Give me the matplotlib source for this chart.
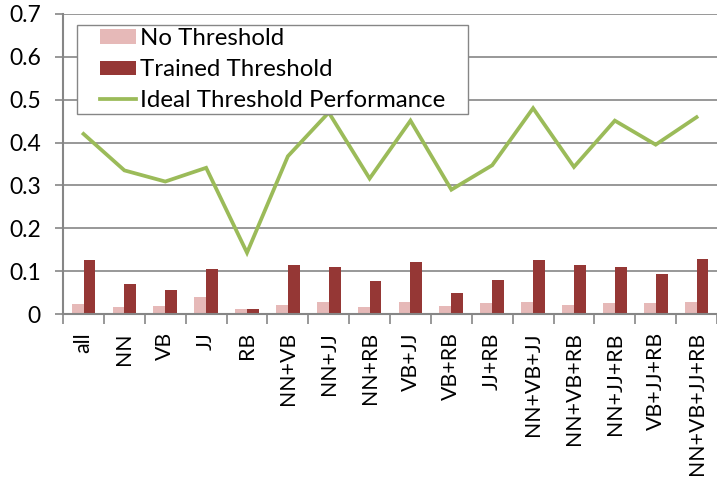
import matplotlib
matplotlib.use("Agg")
import matplotlib.pyplot as plt
import numpy as np
from matplotlib.ticker import FixedLocator
from matplotlib.legend_handler import HandlerPatch, HandlerLine2D
from matplotlib.patches import Rectangle

categories = ["all", "NN", "VB", "JJ", "RB", "NN+VB", "NN+JJ", "NN+RB", "VB+JJ",
              "VB+RB", "JJ+RB", "NN+VB+JJ", "NN+VB+RB", "NN+JJ+RB", "VB+JJ+RB",
              "NN+VB+JJ+RB"]
no_threshold = [0.023, 0.017, 0.019, 0.040, 0.011, 0.021, 0.028, 0.017, 0.028,
                0.019, 0.025, 0.028, 0.021, 0.025, 0.025, 0.028]
trained_threshold = [0.125, 0.069, 0.056, 0.104, 0.011, 0.114, 0.110, 0.077, 0.121,
                     0.048, 0.080, 0.125, 0.114, 0.110, 0.094, 0.129]
ideal_threshold = [0.420, 0.335, 0.309, 0.341, 0.143, 0.368, 0.470, 0.316, 0.451,
                   0.290, 0.347, 0.480, 0.343, 0.451, 0.395, 0.459]
y_ticks = [0, 0.1, 0.2, 0.3, 0.4, 0.5, 0.6, 0.7]
y_tick_labels = ["0", "0.1", "0.2", "0.3", "0.4", "0.5", "0.6", "0.7"]

plt.rcParams['font.family'] = ['Lato', 'DejaVu Sans']

fig = plt.figure(figsize=(7.17, 4.78), dpi=100)
ax = fig.add_axes([0.088, 0.343, 0.912, 0.628])

x = np.arange(len(categories))
w = 0.29
grid_c = "#868686"
h1 = ax.bar(x - w / 2, no_threshold, width=w, color="#E6B9B8", label="No Threshold", zorder=3)
h2 = ax.bar(x + w / 2, trained_threshold, width=w, color="#953735", label="Trained Threshold", zorder=3)
h3, = ax.plot(x, ideal_threshold, color="#9BBB59", lw=2.7, label="Ideal Threshold Performance",
              zorder=4, solid_joinstyle="miter")

ax.set_xlim(-0.5, len(categories) - 0.5)
ax.set_ylim(0, 0.7)
ax.set_yticks(y_ticks)
ax.set_yticklabels(y_tick_labels)
ax.grid(axis="y", color=grid_c, lw=1.2, zorder=0)

ax.set_xticks(x)
ax.set_xticklabels(categories, rotation=90)
ax.xaxis.set_minor_locator(FixedLocator(np.arange(-0.5, len(categories), 1.0)))
ax.tick_params(axis="x", which="major", length=0, pad=13, labelsize=15.3)
ax.tick_params(axis="x", which="minor", length=7, width=1.2, color=grid_c, direction="out")
ax.tick_params(axis="y", length=6, width=1.2, color=grid_c, direction="out", pad=10, labelsize=16.5)

for s in ["top", "right"]:
    ax.spines[s].set_visible(False)
for s in ["left", "bottom"]:
    ax.spines[s].set_color(grid_c)
    ax.spines[s].set_linewidth(1.5)
ax.spines["bottom"].set_zorder(5)

fs = 17.3
p1 = h1.patches[0]
p2 = h2.patches[0]
hmap = {p1: HandlerPatch(xpad=0.85), p2: HandlerPatch(xpad=0.85), h3: HandlerLine2D(xpad=0.85)}
leg = ax.legend(handles=[p1, p2, h3],
                labels=["No Threshold", "Trained Threshold", "Ideal Threshold Performance"],
                loc="upper left", bbox_to_anchor=(0.021, 0.962),
                fontsize=fs, frameon=False, handler_map=hmap,
                handlelength=2.35, handleheight=0.55, handletextpad=0.15, borderpad=0.12,
                labelspacing=0.42, borderaxespad=0)
leg.set_zorder(6)

fig.canvas.draw()
bb = leg.get_window_extent()
inv = ax.transAxes.inverted()
(x0, y0), (x1, y1) = inv.transform([[bb.x0, bb.y0], [bb.x1 + 20, bb.y1]])
frame = Rectangle((x0, y0), x1 - x0, y1 - y0, transform=ax.transAxes, facecolor="white",
                  edgecolor=grid_c, lw=1.0, zorder=5.5)
ax.add_patch(frame)

fig.savefig("out.png", dpi=100)
